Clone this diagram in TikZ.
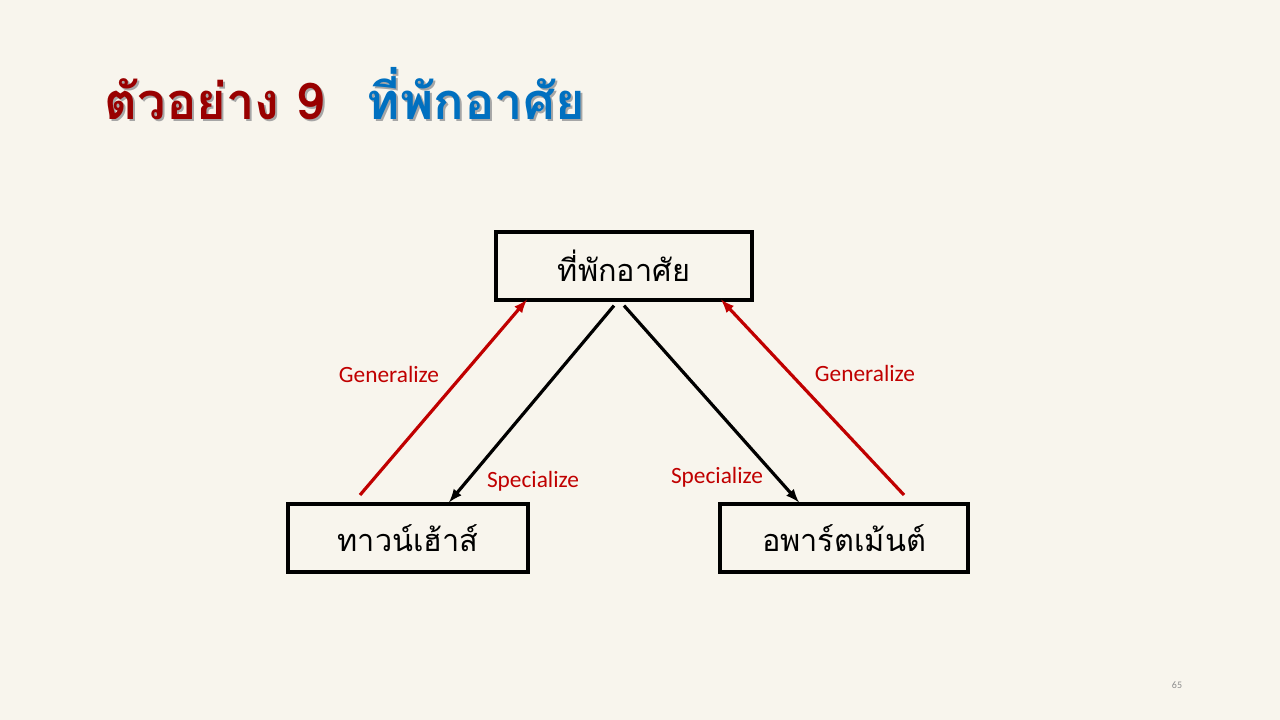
\documentclass[tikz,border=0pt]{standalone}
\usepackage{fontspec}
\setmainfont{Carlito}
\newfontfamily\thaifont[Script=Thai]{Loma}
\usetikzlibrary{calc, positioning}

\begin{document}
\begin{tikzpicture}[>=latex, x=0.75pt, y=-0.75pt]
    % Colours of the slide
    \definecolor{paper}{RGB}{248, 245, 237}
    \definecolor{titlered}{RGB}{153, 0, 0}
    \definecolor{titleblue}{RGB}{0, 112, 192}
    \definecolor{redline}{RGB}{192, 0, 0}

    \tikzset{
        box/.style={draw, line width=2.4pt, minimum width=#1, minimum height=68*0.75pt,
            inner sep=0pt, font=\thaifont\fontsize{23}{26}\selectfont},
        spec/.style={->, line width=2.4pt, black},
        gen/.style={->, line width=2.4pt, redline},
        lbl/.style={text=redline, font=\fontsize{17.5}{20}\selectfont, inner sep=0pt},
        headline/.style={anchor=base west, font=\thaifont\bfseries\fontsize{38}{44}\selectfont}
    }

    % 1. Background
    \fill[paper] (0,0) rectangle (1280,720);

    % 2. Title with shadow
    \node[headline, text=black!35] at (102,122) {ตัวอย่าง 9};
    \node[headline, text=titlered] (title) at (100,120) {ตัวอย่าง 9};
    \node[headline, text=black!35] at (364,122) {ที่พักอาศัย};
    \node[headline, text=titleblue] (topic) at (362,120) {ที่พักอาศัย};

    % 3. Boxes
    \node[box=256*0.75pt] (home) at (624,266) {ที่พักอาศัย};
    \node[box=240*0.75pt] (town) at (408,538) {ทาวน์เฮ้าส์};
    \node[box=248*0.75pt] (flat) at (844,538) {อพาร์ตเม้นต์};

    % 4. Arrows
    \coordinate (gl) at (360,495);
    \coordinate (gr) at (904,495);
    \draw[gen] (gl) -- ([xshift=-97*0.75pt, yshift=2*0.75pt]home.south);
    \draw[gen] (gr) -- ([xshift=97*0.75pt, yshift=2*0.75pt]home.south);
    \draw[spec] ([xshift=-10*0.75pt, yshift=-4*0.75pt]home.south) -- ([xshift=41*0.75pt]town.north);
    \draw[spec] ([yshift=-4*0.75pt]home.south) -- ([xshift=-45*0.75pt]flat.north);

    % 5. Labels
    \node[lbl] (g1) at (389,374) {Generalize};
    \node[lbl] (s1) at (533,481) {Specialize};
    \node[lbl] (s2) at (717,477) {Specialize};
    \node[lbl] (g2) at (865,373) {Generalize};

    % 6. Page number
    \node[text=black!45, font=\fontsize{7.5}{9}\selectfont] (page) at (1177,685) {65};
\end{tikzpicture}
\end{document}
